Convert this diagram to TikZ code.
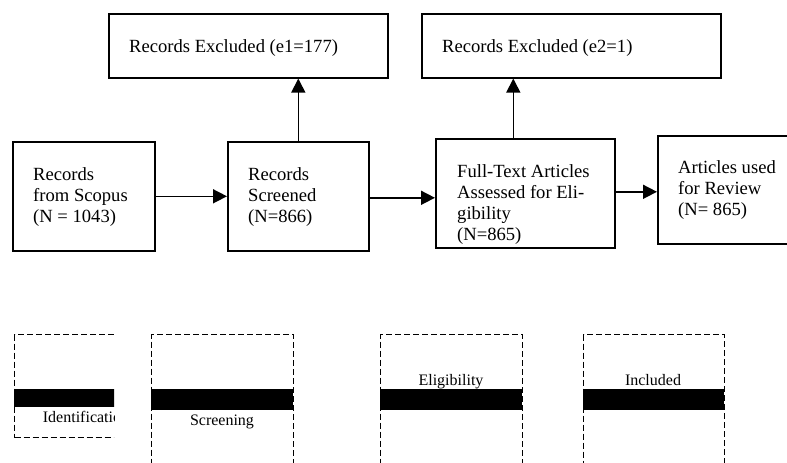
\documentclass[tikz,border=0pt]{standalone}
\usepackage{fontspec}
\setmainfont{Liberation Serif}
\usetikzlibrary{arrows.meta}
\tikzset{
  recbox/.style={draw, line width=1.6pt, inner sep=0pt, anchor=north west},
  stagebox/.style={draw, dash pattern=on 6pt off 3pt, line width=1.3pt, inner sep=0pt, anchor=north west},
  bar/.style={fill=black, inner sep=0pt, anchor=north west},
  txt/.style={inner sep=0pt, anchor=base west, align=left, font=\fontsize{18.6}{21.3}\selectfont},
  lbl/.style={inner sep=0pt, anchor=base, font=\fontsize{16}{19}\selectfont},
  arr/.style={line width=1.6pt, -{Triangle[length=14pt,width=14pt]}}
}
\begin{document}
\begin{tikzpicture}[x=1pt,y=-1pt]
      \clip (0,0) rectangle (787,463);
      % flow boxes
      \node[recbox, minimum width=279pt, minimum height=64pt] (excl1) at (108,13) {};
      \node[recbox, minimum width=299pt, minimum height=64pt] (excl2) at (421,13) {};
      \node[recbox, minimum width=142pt, minimum height=109pt] (scopus) at (12,141) {};
      \node[recbox, minimum width=141pt, minimum height=109pt] (screened) at (227,141) {};
      \node[recbox, minimum width=179pt, minimum height=109pt] (full) at (435,138) {};
      \node[recbox, minimum width=160pt, minimum height=108pt] (review) at (657,135) {};

      % texts, placed by the baseline of their last line
      \node[txt] (excl1txt) at (129,52) {Records Excluded (e1=177)};
      \node[txt] (excl2txt) at (442,52) {Records Excluded (e2=1)};
      \node[txt] (scopustxt) at (33,222.6) {Records\\from Scopus\\(N = 1043)};
      \node[txt] (screenedtxt) at (248,222.6) {Records\\Screened\\(N=866)};
      \node[txt] (fulltxt) at (457,240.9) {Full-Text Articles\\Assessed for Eli-\\gibility\\(N=865)};
      \node[txt] (reviewtxt) at (678,215.6) {Articles used\\for Review\\(N= 865)};

      \draw[arr] (scopus.east) -- (screened.west);
      \draw[arr] ([yshift=-1.5pt]screened.east) -- ([yshift=-1.5pt]screened.east -| full.west);
      \draw[arr] ([yshift=1.5pt]full.east) -- ([yshift=1.5pt]full.east -| review.west);
      \draw[arr] (screened.north) -- (screened.north |- excl1.south);
      \draw[arr] ([xshift=-12pt]full.north) -- ([xshift=-12pt]full.north |- excl2.south);

      % stage boxes
      \begin{scope}
        \clip (0,300) rectangle (114,463);
        \node[stagebox, minimum width=142pt, minimum height=103pt] (ident) at (14,334) {};
        \node[bar, minimum width=142pt, minimum height=18pt] (identbar) at (14,389) {};
        \node[lbl] (identlbl) at (86,422) {Identification};
      \end{scope}
      \node[stagebox, minimum width=142pt, minimum height=150pt] (screen) at (151,334) {};
      \node[stagebox, minimum width=142pt, minimum height=150pt] (elig) at (380,334) {};
      \node[stagebox, minimum width=141pt, minimum height=150pt] (incl) at (583,334) {};
      \node[bar, minimum width=142pt, minimum height=21pt] (screenbar) at (151,389) {};
      \node[bar, minimum width=142pt, minimum height=21pt] (eligbar) at (380,389) {};
      \node[bar, minimum width=141pt, minimum height=21pt] (inclbar) at (583,389) {};
      \node[lbl] (screenlbl) at (222,425) {Screening};
      \node[lbl] (eliglbl) at (451,385) {Eligibility};
      \node[lbl] (incllbl) at (653,385) {Included};
\end{tikzpicture}
\end{document}
